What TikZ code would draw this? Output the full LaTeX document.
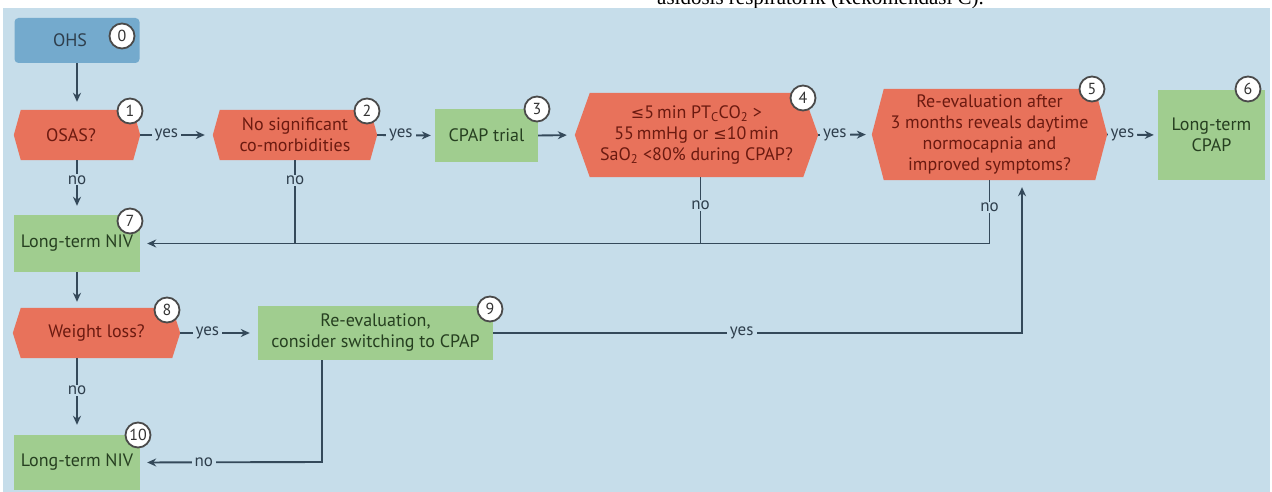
\documentclass[tikz,border=0pt]{standalone}
\usepackage{fontspec}
\setmainfont{PT Sans}
\newfontfamily\symf{DejaVu Sans}
\newfontfamily\serf{Liberation Serif}
\usetikzlibrary{backgrounds,arrows.meta,calc}
\definecolor{bg}{HTML}{C6DDEA}
\definecolor{ohsc}{HTML}{74AACD}
\definecolor{redf}{HTML}{E8725B}
\definecolor{grnf}{HTML}{A0CD8F}
\definecolor{lnc}{HTML}{34495A}
\definecolor{redt}{HTML}{6B1A10}
\definecolor{grnt}{HTML}{263F20}
\definecolor{blut}{HTML}{2E3E4C}
\definecolor{circd}{HTML}{4A4A4A}
\newcommand{\lesym}{{\symf\fontsize{16}{16}\selectfont ≤}}
\newcommand{\hexfill}[2]{\fill[redf] (#1.west) -- ($(#1.north west)+(#2,0)$) -- ($(#1.north east)+(-#2,0)$) -- (#1.east) -- ($(#1.south east)+(-#2,0)$) -- ($(#1.south west)+(#2,0)$) -- cycle;}
\begin{document}
\begin{tikzpicture}[x=1pt,y=-1pt,
  every node/.style={inner sep=0pt, align=center, font=\fontsize{18}{21}\selectfont},
  gbox/.style={rectangle, fill=grnf, text=grnt},
  rbox/.style={rectangle, text=redt},
  circ/.style={circle, draw=circd, line width=1.8pt, fill=white, minimum size=25pt, text=black!80, font=\fontsize{16}{16}\selectfont},
  conn/.style={draw=lnc, line width=1.9pt},
  arr/.style={conn, -{Stealth[length=9pt,width=8pt]}},
  lab/.style={fill=bg, inner xsep=3pt, inner ysep=1pt, text=blut, font=\fontsize{17}{17}\selectfont}
]
\useasboundingbox (0,0) rectangle (1272,492);
\begin{scope}
  \clip (0,0) rectangle (1272,8);
  \node[anchor=base west, font=\serf\fontsize{21}{21}\selectfont, text=black] (cut) at (657,5) {asidosis respiratorik (Rekomendasi C).²};
\end{scope}

% nodes
\node[rectangle, fill=ohsc, rounded corners=4pt, minimum width=125pt, minimum height=45pt, text=blut] (ohs) at (77,40.5) {OHS\hspace*{14pt}};
\node[rbox, minimum width=126pt, minimum height=50pt] (n1) at (77,135) {OSAS?\hspace*{12pt}};
\node[rbox, minimum width=164pt, minimum height=50pt] (n2) at (295,135) {No significant\\co-morbidities};
\node[gbox, minimum width=103pt, minimum height=53pt] (n3) at (486.5,135.5) {CPAP trial};
\node[rbox, minimum width=243pt, minimum height=84pt] (n4) at (696.5,135) {\lesym5\,min PT\textsubscript{C}CO\textsubscript{2} >\\55\,mmHg or \lesym10\,min\\SaO\textsubscript{2} <80\% during CPAP?};
\node[rbox, minimum width=235pt, minimum height=91pt] (n5) at (989.5,134.5) {Re-evaluation after\\3 months reveals daytime\\normocapnia and\\improved symptoms?};
\node[gbox, minimum width=107pt, minimum height=90pt] (n6) at (1211.5,135) {Long-term\\CPAP};
\node[gbox, minimum width=126pt, minimum height=57pt] (n7) at (77,243.5) {Long-term NIV};
\node[rbox, minimum width=167pt, minimum height=50pt] (n8) at (96.5,333) {Weight loss?};
\node[gbox, minimum width=235pt, minimum height=54pt] (n9) at (375.5,333) {Re-evaluation,\\consider switching to CPAP};
\node[gbox, minimum width=126pt, minimum height=55pt] (n10) at (77,462.5) {Long-term NIV};

\begin{scope}[on background layer]
  \fill[white] (0,0) rectangle (1272,492);
  \fill[bg] (3,8) rectangle (1270,492);
  \hexfill{n1}{7}
  \hexfill{n2}{7}
  \hexfill{n4}{15}
  \hexfill{n5}{12}
  \hexfill{n8}{8}
\end{scope}

% connectors
\coordinate (j9) at (1022,333);
\coordinate (j10) at (322,462);
\draw[arr, shorten >=8pt] (ohs) -- (n1);
\draw[arr, shorten >=8pt] (n1.east) -- node[lab, pos=0.36]{yes} (n2.west);
\draw[arr, shorten >=4pt] (n2.east) -- node[lab, pos=0.41]{yes} (n3.west);
\draw[arr, shorten >=8pt] (n3.east) -- (n4.west);
\draw[arr, shorten >=6pt] (n4.east) -- node[lab, pos=0.31]{yes} (n5.west);
\draw[arr, shorten >=4pt] (n5.east) -- node[lab, pos=0.3]{yes} (n6.west);
\draw[arr, shorten >=9pt] (n1.south) -- node[lab, pos=0.36]{no} (n7.north);
\draw[conn] (n2.south) -- node[lab, pos=0.24]{no} (n2.south |- n7.east);
\draw[conn] ([xshift=4pt]n4.south) -- node[lab, pos=0.42]{no} ([xshift=4pt]n4.south |- n7.east);
\draw[arr, shorten >=7pt] (n5.south) -- node[lab, pos=0.43]{no} (n5.south |- n7.east) -- (n7.east);
\draw[arr, shorten >=6pt] (n7.south) -- (n7.south |- n8.north);
\draw[arr, shorten >=8pt] (n8.east) -- node[lab, pos=0.35]{yes} (n9.west);
\draw[arr, shorten >=7pt] (n9.east) -- node[lab, pos=0.47]{yes} (j9) -- (j9 |- n5.south);
\draw[arr, shorten >=10pt] (n8.south -| n10.north) -- node[lab, pos=0.42]{no} (n10.north);
\draw[arr, shorten >=7pt] (j10 |- n9.south) -- (j10) -- node[lab, pos=0.65]{no} (n10.east);

% number circles
\node[circ] (c0) at (122,36) {0};
\node[circ] (c1) at (130,111) {1};
\node[circ] (c2) at (367,111) {2};
\node[circ] (c3) at (537,109) {3};
\node[circ] (c4) at (803,98) {4};
\node[circ] (c5) at (1092,89) {5};
\node[circ] (c6) at (1248,89) {6};
\node[circ] (c7) at (130,221) {7};
\node[circ] (c8) at (167,310) {8};
\node[circ] (c9) at (490,309) {9};
\node[circ] (c10) at (138,435) {10};
\end{tikzpicture}
\end{document}
